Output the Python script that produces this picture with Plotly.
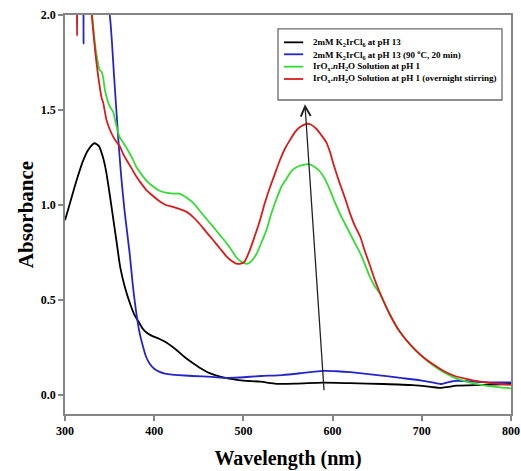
import plotly.graph_objects as go

# UV-Vis absorbance spectra (wavelength in nm, absorbance in a.u.)
black_nm = [300, 305, 313, 320, 326, 333, 338, 342, 346, 350, 354, 358, 362, 367, 373, 378, 382,
            387, 391, 398, 406, 414, 420, 425, 434, 444, 453, 462, 475, 488, 500, 519, 537, 560,
            589, 620, 657, 690, 710, 721, 730, 739, 769, 800]
black_abs = [0.92, 1.00, 1.13, 1.23, 1.29, 1.325, 1.31, 1.26, 1.18, 1.06, 0.93, 0.80, 0.67, 0.57,
             0.48, 0.42, 0.39, 0.35, 0.33, 0.31, 0.295, 0.275, 0.255, 0.237, 0.20, 0.166, 0.138,
             0.115, 0.096, 0.084, 0.076, 0.07, 0.059, 0.06, 0.065, 0.062, 0.058, 0.052, 0.043,
             0.037, 0.043, 0.049, 0.053, 0.058]

blue_nm = [316, 320.3, 320.8, 321.3, 330, 350.2, 355, 359.7, 363, 367, 372.6, 376, 380, 383.5,
           387.5, 391, 395, 400, 406, 412, 420, 443, 465, 481, 495, 507, 520, 544, 565, 580, 590,
           605, 620, 650, 676, 700, 712, 721, 730, 739, 769, 800]
blue_abs = [2.5, 2.25, 1.85, 2.25, 2.6, 2.0, 1.68, 1.35, 1.15, 0.96, 0.74, 0.58, 0.43, 0.33, 0.254,
            0.20, 0.165, 0.138, 0.122, 0.113, 0.107, 0.10, 0.095, 0.09, 0.092, 0.096, 0.10, 0.105,
            0.115, 0.123, 0.127, 0.125, 0.12, 0.105, 0.09, 0.076, 0.066, 0.058, 0.068, 0.075,
            0.068, 0.066]

green_nm = [322, 330.5, 335, 339, 341, 342.6, 345, 350, 354, 357, 361, 365, 369, 375, 380, 386,
            391, 398, 406, 413, 421, 428, 436, 444, 451, 458, 466, 474, 481, 487, 492, 498, 503.6,
            508, 515, 520, 526, 531, 537, 543, 548.5, 554, 560, 566, 573, 580, 586, 591, 597, 602,
            608, 614, 619.5, 625, 631, 636, 642, 647, 652, 658, 664, 675, 687, 700, 713, 725, 737,
            750, 762, 775, 788, 800]
green_abs = [2.6, 2.0, 1.80, 1.71, 1.70, 1.675, 1.60, 1.52, 1.49, 1.43, 1.36, 1.33, 1.30, 1.25,
             1.20, 1.16, 1.13, 1.10, 1.075, 1.065, 1.06, 1.06, 1.04, 1.01, 0.97, 0.93, 0.886,
             0.84, 0.80, 0.76, 0.725, 0.70, 0.69, 0.70, 0.745, 0.80, 0.87, 0.95, 1.03, 1.10, 1.14,
             1.18, 1.20, 1.21, 1.215, 1.20, 1.175, 1.14, 1.08, 1.02, 0.956, 0.90, 0.85, 0.80,
             0.746, 0.69, 0.62, 0.575, 0.54, 0.485, 0.425, 0.335, 0.265, 0.205, 0.155, 0.118,
             0.09, 0.07, 0.057, 0.047, 0.04, 0.035]

red_nm = [308, 312.8, 313.5, 314.2, 320, 330, 335, 339, 341, 342, 343, 346.4, 350, 354, 358,
          361.4, 365, 369, 375, 380, 386, 391, 398, 406, 413, 421, 428, 436, 444, 451, 458, 466,
          474, 481, 487, 492, 496, 501, 507, 513, 518.6, 524, 530, 535, 541, 547, 552, 558, 563.5,
          571, 575, 582, 587, 593, 597, 602, 608, 614, 619.5, 625, 631, 636, 642, 647, 652, 658,
          664, 675, 687, 700, 713, 725, 737, 750, 762, 775, 788, 800]
red_abs = [2.5, 2.3, 1.89, 2.3, 2.6, 2.0, 1.76, 1.62, 1.565, 1.55, 1.535, 1.45, 1.40, 1.36, 1.33,
           1.31, 1.27, 1.237, 1.19, 1.15, 1.11, 1.08, 1.05, 1.02, 1.00, 0.99, 0.98, 0.965, 0.935,
           0.90, 0.86, 0.816, 0.77, 0.73, 0.705, 0.692, 0.69, 0.70, 0.76, 0.84, 0.92, 1.01,
           1.096, 1.16, 1.237, 1.30, 1.34, 1.385, 1.41, 1.427, 1.425, 1.40, 1.37, 1.33, 1.28,
           1.20, 1.114, 1.035, 0.956, 0.89, 0.833, 0.76, 0.68, 0.61, 0.55, 0.485, 0.425, 0.335,
           0.265, 0.205, 0.16, 0.125, 0.10, 0.085, 0.073, 0.064, 0.058, 0.053]

series_names = [
    "2mM K<sub>2</sub>IrCl<sub>6</sub> at pH 13",
    "2mM K<sub>2</sub>IrCl<sub>6</sub> at pH 13 (90 <sup>o</sup>C, 20 min)",
    "IrO<sub>x</sub>.<i>n</i>H<sub>2</sub>O Solution at pH 1",
    "IrO<sub>x</sub>.<i>n</i>H<sub>2</sub>O Solution at pH 1 (overnight stirring)",
]
series_colors = ["#000000", "#2626c8", "#33dd33", "#d81c1c"]

# trend arrow: tail and head (nm, absorbance)
arrow_tail = (590.5, 0.017)
arrow_head = (569.0, 1.53)

x_ticks = [300, 400, 500, 600, 700, 800]
y_ticks = [0.0, 0.5, 1.0, 1.5, 2.0]

SERIF = "Liberation Serif, Times New Roman, serif"

fig = go.Figure()
all_x = [black_nm, blue_nm, green_nm, red_nm]
all_y = [black_abs, blue_abs, green_abs, red_abs]
for xs, ys, name, col in zip(all_x, all_y, series_names, series_colors):
    fig.add_trace(go.Scatter(x=xs, y=ys, mode="lines", name=name, showlegend=False,
                             line=dict(color=col, width=1.8, shape="spline", smoothing=0.6)))

# arrow through the peak maxima
fig.add_annotation(x=arrow_head[0], y=arrow_head[1], ax=arrow_tail[0], ay=arrow_tail[1],
                   xref="x", yref="y", axref="x", ayref="y", text="", showarrow=True,
                   arrowhead=5, arrowsize=1.5, arrowwidth=1.3, arrowcolor="#222222")

# boxed legend in the upper right of the plot area
box_x0, box_x1, box_y0, box_y1 = 0.4776, 0.9798, 0.787, 0.965
fig.add_shape(type="rect", xref="paper", yref="paper", x0=box_x0, x1=box_x1, y0=box_y0, y1=box_y1,
              line=dict(color="#6a6a6a", width=1.3), fillcolor="white", layer="above")
row_y = [0.9315, 0.9015, 0.8705, 0.8396]
for ry, name, col in zip(row_y, series_names, series_colors):
    fig.add_shape(type="line", xref="paper", yref="paper", x0=0.491, x1=0.534, y0=ry, y1=ry,
                  line=dict(color=col, width=1.8), layer="above")
    fig.add_annotation(xref="paper", yref="paper", x=0.551, y=ry, text="<b>" + name + "</b>",
                       showarrow=False, xanchor="left", yanchor="middle",
                       font=dict(family=SERIF, size=9, color="black"))

axis_common = dict(showline=True, linecolor="#858585", linewidth=1.5, mirror=True,
                   ticks="outside", ticklen=5, tickwidth=1.5, tickcolor="#858585",
                   showgrid=False, zeroline=False, automargin=False,
                   tickfont=dict(family=SERIF, size=12, color="black", weight="bold"))

fig.update_xaxes(range=[300, 800], tickvals=x_ticks,
                 title=dict(text="Wavelength (nm)", standoff=14,
                            font=dict(family=SERIF, size=20, color="black", weight="bold")),
                 **axis_common)
fig.update_yaxes(range=[-0.1, 2.0], tickvals=y_ticks, tickformat=".1f",
                 title=dict(text="Absorbance", standoff=1,
                            font=dict(family=SERIF, size=21, color="black", weight="bold")),
                 **axis_common)

fig.update_layout(width=521, height=471, margin=dict(l=65, r=10, t=15, b=57),
                  plot_bgcolor="white", paper_bgcolor="white")

fig.write_html("out.html")
